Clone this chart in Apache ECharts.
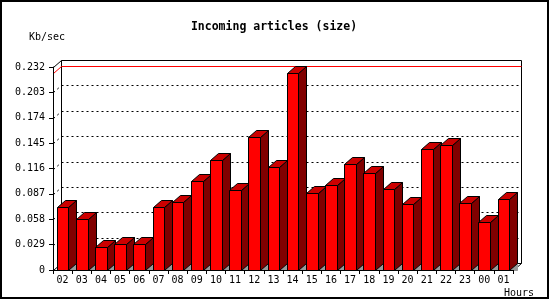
<!DOCTYPE html>
<html>
<head>
<meta charset="utf-8">
<script src="https://cdn.jsdelivr.net/npm/echarts@6/dist/echarts.min.js"></script>
<style>
html,body{margin:0;padding:0;background:#fff;}
#chart{width:550px;height:300px;}
</style>
</head>
<body>
<div id="chart"></div>
<script>
const hours = ['02','03','04','05','06','07','08','09','10','11','12','13','14','15','16','17','18','19','20','21','22','23','00','01'];
const kbps = [0.0717,0.0579,0.0259,0.0293,0.0293,0.0717,0.0773,0.1013,0.1253,0.0910,0.1524,0.1173,0.2252,0.0876,0.0971,0.1208,0.1105,0.0922,0.0751,0.1385,0.1425,0.0762,0.0545,0.0808];
const yTickLabels = ['0','0.029','0.058','0.087','0.116','0.145','0.174','0.203','0.232'];
const yMin = 0, yMax = 0.232, yStep = 0.029;

const DX = 8, DY = 7;
const FONT = '"DejaVu Sans Mono", monospace';
const px = v => Math.round(v) + 0.5;

const chart = echarts.init(document.getElementById('chart'), null, {renderer:'canvas'});

function frameRender(params, api) {
  const cs = params.coordSys;
  const x = cs.x, y = cs.y, w = cs.width, h = cs.height;
  const ch = [];
  const bx = x + DX, by = y - DY;
  ch.push({type:'rect', shape:{x:px(bx), y:px(by), width:Math.round(w), height:Math.round(h)},
    style:{fill:'#fff', stroke:'#000', lineWidth:1}});
  for (let i = 1; i < yTickLabels.length - 1; i++) {
    const v = yMin + i * yStep;
    const yy = api.coord([0, v])[1];
    ch.push({type:'line', shape:{x1:px(bx), y1:px(yy - DY), x2:px(bx + w), y2:px(yy - DY)},
      style:{stroke:'#000', lineWidth:1, lineDash:[2,3]}});
    ch.push({type:'line', shape:{x1:px(x), y1:px(yy), x2:px(bx), y2:px(yy - DY)},
      style:{stroke:'#000', lineWidth:1, lineDash:[2,3]}});
  }
  const mv = Math.max.apply(null, kbps);
  const my = api.coord([0, mv])[1];
  ch.push({type:'line', shape:{x1:px(bx), y1:px(my - DY), x2:px(bx + w), y2:px(my - DY)},
    style:{stroke:'#f00', lineWidth:1}});
  ch.push({type:'line', shape:{x1:px(x), y1:px(my), x2:px(bx), y2:px(my - DY)},
    style:{stroke:'#f00', lineWidth:1}});
  ch.push({type:'line', shape:{x1:px(x), y1:px(y), x2:px(bx), y2:px(by)}, style:{stroke:'#000', lineWidth:1}});
  ch.push({type:'line', shape:{x1:px(x), y1:px(y + h), x2:px(bx), y2:px(by + h)}, style:{stroke:'#000', lineWidth:1}});
  ch.push({type:'line', shape:{x1:px(x + w), y1:px(y + h), x2:px(bx + w), y2:px(by + h)}, style:{stroke:'#000', lineWidth:1}});
  return {type:'group', children:ch};
}

function barRender(params, api) {
  const i = api.value(0), v = api.value(1);
  const t = api.coord([i, v]);
  const b = api.coord([i, 0]);
  const bw = api.size([1, 0])[0] * 0.61;
  const x0 = px(t[0] - bw / 2), x1 = px(t[0] + bw / 2);
  const top = px(t[1]), bot = px(b[1]);
  const ch = [];
  ch.push({type:'polygon', shape:{points:[[x1, bot],[x1 + DX, bot - DY],[x1 + DX, bot]]},
    style:{fill:'#999999', stroke:'#999999', lineWidth:1}});
  ch.push({type:'polygon', shape:{points:[[x1, top],[x1 + DX, top - DY],[x1 + DX, bot - DY],[x1, bot]]},
    style:{fill:'#800000', stroke:'#000', lineWidth:1}});
  ch.push({type:'polygon', shape:{points:[[x0, top],[x0 + DX, top - DY],[x1 + DX, top - DY],[x1, top]]},
    style:{fill:'#cc0000', stroke:'#000', lineWidth:1}});
  ch.push({type:'rect', shape:{x:x0, y:top, width:x1 - x0, height:bot - top},
    style:{fill:'#ff0000', stroke:'#000', lineWidth:1}});
  return {type:'group', children:ch};
}

const option = {
  animation: false,
  backgroundColor: '#fff',
  grid: {left:53, top:67, right:37, bottom:30, containLabel:false},
  xAxis: {
    type:'category', data:hours, boundaryGap:true, z:5,
    axisLine:{show:true, lineStyle:{color:'#000', width:1}},
    axisTick:{show:true, interval:0, length:4, lineStyle:{color:'#000'}},
    axisLabel:{interval:0, margin:5, color:'#000', fontFamily:FONT, fontSize:10}
  },
  yAxis: {
    type:'value', min:yMin, max:yMax, interval:yStep, z:5,
    axisLine:{show:true, lineStyle:{color:'#000', width:1}},
    axisTick:{show:true, length:4, lineStyle:{color:'#000'}},
    splitLine:{show:false},
    axisLabel:{margin:8, color:'#000', fontFamily:FONT, fontSize:10,
      formatter:(val, idx) => yTickLabels[idx]}
  },
  series: [
    {type:'custom', renderItem:frameRender, data:[[0, 0]], z:1, silent:true, clip:false},
    {type:'custom', renderItem:barRender, data:kbps.map((v, i) => [i, v]), z:2, clip:false}
  ],
  graphic: [
    {type:'rect', shape:{x:1, y:1, width:547, height:297}, style:{fill:'none', stroke:'#000', lineWidth:2}, z:100},
    {type:'text', x:274, y:27, style:{text:'Incoming articles (size)', font:'bold 11.5px ' + FONT, fill:'#000', textAlign:'center', textVerticalAlign:'middle'}},
    {type:'text', x:29, y:37, style:{text:'Kb/sec', font:'10px ' + FONT, fill:'#000', textAlign:'left', textVerticalAlign:'middle'}},
    {type:'text', x:504, y:293, style:{text:'Hours', font:'10px ' + FONT, fill:'#000', textAlign:'left', textVerticalAlign:'middle'}}
  ]
};
chart.setOption(option);
</script>
</body>
</html>
